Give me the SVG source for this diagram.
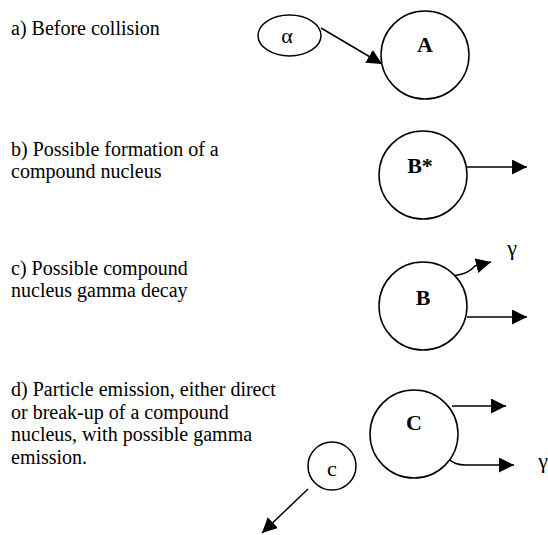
<svg xmlns="http://www.w3.org/2000/svg" width="548" height="535" viewBox="0 0 548 535">
<defs>
<style>
.txt{font-family:"Liberation Serif","Times New Roman","DejaVu Serif",serif;font-size:20px;fill:#000}
.lbl{font-family:"Liberation Serif","Times New Roman","DejaVu Serif",serif;font-size:22px;fill:#000;text-anchor:middle}
.b{font-weight:bold}
.shape{fill:#fff;stroke:#000;stroke-width:1.5}
.conn{fill:none;stroke:#000;stroke-width:1.5;marker-end:url(#ah)}
</style>
<marker id="ah" markerUnits="userSpaceOnUse" markerWidth="16" markerHeight="16" refX="15" refY="7.5" orient="auto" viewBox="0 0 16 16">
<path d="M0,0 L15,7.5 L0,15 Z" fill="#000"/>
</marker>
</defs>
<rect width="548" height="535" fill="#fff"/>
<g id="captions">
<text class="txt" x="11" y="35">a) Before collision</text>
<text class="txt" x="11" y="156">b) Possible formation of a</text>
<text class="txt" x="11" y="178">compound nucleus</text>
<text class="txt" x="11" y="275">c) Possible compound</text>
<text class="txt" x="11" y="297">nucleus gamma decay</text>
<text class="txt" x="11" y="396">d) Particle emission, either direct</text>
<text class="txt" x="11" y="418.5">or break-up of a compound</text>
<text class="txt" x="11" y="441">nucleus, with possible gamma</text>
<text class="txt" x="11" y="463.5">emission.</text>
</g>
<g id="connectors">
<path class="conn" d="M321,28 L382,64"/>
<path class="conn" d="M467,167 L527,167"/>
<path class="conn" d="M455,275.5 Q468,274 475,266 L491,262"/>
<path class="conn" d="M467,317 L527,317"/>
<path class="conn" d="M452,406 L506,406"/>
<path class="conn" d="M449,459 Q454,465 466,465 L514,465"/>
<path class="conn" d="M308,489 L262,533"/>
</g>
<g id="node-alpha">
<ellipse class="shape" cx="289.5" cy="35.5" rx="31.5" ry="20.5"/>
<text class="lbl" x="287" y="43">α</text>
</g>
<g id="node-A">
<circle class="shape" cx="425" cy="55" r="44"/>
<text class="lbl b" x="425" y="52">A</text>
</g>
<g id="node-Bstar">
<circle class="shape" cx="423" cy="175" r="44"/>
<text class="lbl b" x="420" y="173">B*</text>
</g>
<g id="node-B">
<circle class="shape" cx="423" cy="306" r="44"/>
<text class="lbl b" x="423" y="305">B</text>
</g>
<g id="node-C">
<circle class="shape" cx="414" cy="434" r="44"/>
<text class="lbl b" x="414" y="430">C</text>
</g>
<g id="node-c">
<circle class="shape" cx="332" cy="466" r="24"/>
<text class="lbl" x="332" y="476">c</text>
</g>
<g id="gamma-labels">
<text class="lbl" x="512" y="255">γ</text>
<text class="lbl" x="543" y="468">γ</text>
</g>
</svg>
